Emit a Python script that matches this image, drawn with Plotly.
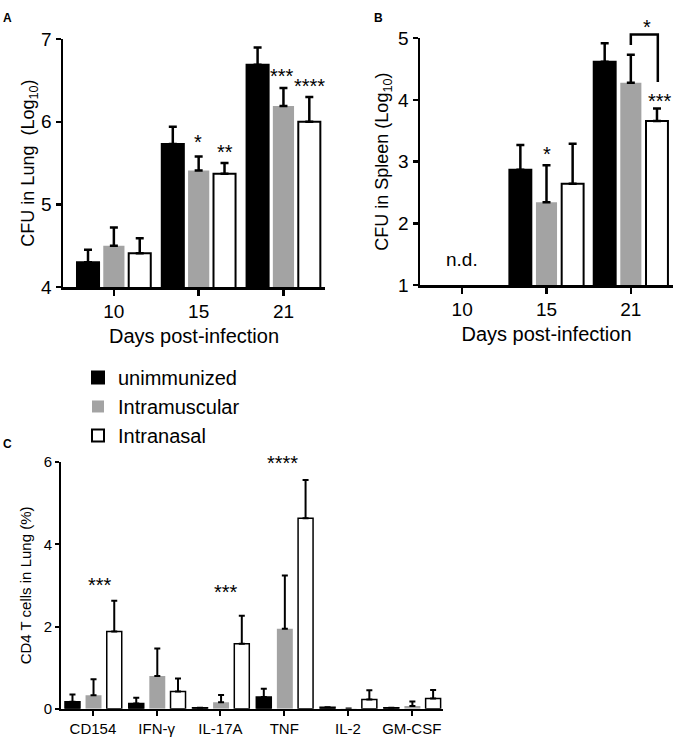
import plotly.graph_objects as go

# ---------------- data ----------------
groups = ["unimmunized", "Intramuscular", "Intranasal"]

days = ["10", "15", "21"]
lung_unimm = [4.30, 5.73, 6.69]
lung_unimm_err = [0.15, 0.21, 0.21]
lung_im = [4.50, 5.41, 6.19]
lung_im_err = [0.22, 0.17, 0.22]
lung_in = [4.41, 5.37, 6.00]
lung_in_err = [0.18, 0.13, 0.30]

spleen_unimm = [None, 2.87, 4.62]
spleen_unimm_err = [None, 0.40, 0.30]
spleen_im = [None, 2.34, 4.28]
spleen_im_err = [None, 0.60, 0.45]
spleen_in = [None, 2.64, 3.66]
spleen_in_err = [None, 0.65, 0.20]

cytokines = ["CD154", "IFN-γ", "IL-17A", "TNF", "IL-2", "GM-CSF"]
cd4_unimm = [0.17, 0.13, 0.03, 0.29, 0.04, 0.03]
cd4_unimm_err = [0.18, 0.14, None, 0.20, None, None]
cd4_im = [0.33, 0.80, 0.16, 1.95, 0.01, 0.07]
cd4_im_err = [0.39, 0.67, 0.18, 1.29, None, 0.11]
cd4_in = [1.88, 0.42, 1.58, 4.63, 0.23, 0.25]
cd4_in_err = [0.75, 0.32, 0.68, 0.93, 0.22, 0.21]

# significance marks: (x position in category units, y value, text)
sig_A = [(0.99, 5.82, "*"), (1.31, 5.69, "**"), (1.98, 6.62, "***"), (2.31, 6.49, "****")]
sig_B = [(1.0, 3.20, "*"), (2.34, 4.07, "***"), (2.19, 5.27, "*")]
sig_C = [(0.11, 3.12, "***"), (2.08, 2.95, "***"), (2.97, 6.10, "****")]

# ---------------- style ----------------
W, H = 677, 750
FONT = "Arial, Liberation Sans, sans-serif"
BLACK = "#000000"
GREY = "#a3a3a3"
WHITE = "#ffffff"

rangeA = [4, 7]
rangeB = [1, 5]
rangeC = [0, 6]


def px_dom(a, b, total):
    return [a / total, b / total]


def py_dom(top, bottom):
    return [1 - bottom / H, 1 - top / H]


fig = go.Figure()


def add_group(xaxis, yaxis, n, vals, errs, offs, widths, line_w, err_th, err_w, show_legend):
    styles = [
        dict(color=BLACK, line=dict(color=BLACK, width=line_w)),
        dict(color=GREY, line=dict(color=GREY, width=0)),
        dict(color=WHITE, line=dict(color=BLACK, width=line_w)),
    ]
    for g in range(3):
        xs = [i + offs[g] for i in range(n)]
        fig.add_trace(go.Bar(
            x=xs, y=vals[g], width=widths[g],
            marker=styles[g],
            error_y=dict(type="data", array=errs[g], arrayminus=[0] * n, symmetric=False,
                         color=BLACK, thickness=err_th, width=err_w),
            name=groups[g], legendgroup=groups[g], showlegend=show_legend,
            xaxis=xaxis, yaxis=yaxis, hoverinfo="skip",
        ))


add_group("x", "y", 3, [lung_unimm, lung_im, lung_in], [lung_unimm_err, lung_im_err, lung_in_err],
          [-0.305, 0.0, 0.305], [0.26, 0.25, 0.26], 2, 2.5, 4, True)
add_group("x2", "y2", 3, [spleen_unimm, spleen_im, spleen_in],
          [spleen_unimm_err, spleen_im_err, spleen_in_err],
          [-0.31, 0.0, 0.31], [0.26, 0.25, 0.26], 2, 2.5, 4, False)
add_group("x3", "y3", 6, [cd4_unimm, cd4_im, cd4_in], [cd4_unimm_err, cd4_im_err, cd4_in_err],
          [-0.32, 0.01, 0.335], [0.235, 0.25, 0.235], 1.5, 2, 3, False)

axis_common = dict(showline=True, linecolor=BLACK, ticks="outside", tickcolor=BLACK,
                   showgrid=False, zeroline=False, fixedrange=True)

fig.update_layout(
    width=W, height=H, autosize=False,
    margin=dict(l=0, r=0, t=0, b=0),
    paper_bgcolor="white", plot_bgcolor="white",
    font=dict(family=FONT, color=BLACK),
    barmode="overlay",
    xaxis=dict(domain=px_dom(63, 325, W), anchor="y", range=[-0.6, 2.49],
               tickvals=[0, 1, 2], ticktext=days, tickfont=dict(size=19),
               linewidth=2.5, tickwidth=2.5, ticklen=6,
               title=dict(text="Days post-infection", font=dict(size=20), standoff=8),
               **axis_common),
    yaxis=dict(domain=py_dom(30, 285), anchor="x", range=rangeA, tickvals=[4, 5, 6, 7],
               tickfont=dict(size=19), linewidth=2.5, tickwidth=2.5, ticklen=5,
               title=dict(text="CFU in Lung\u00a0 (Log<sub>10</sub>)", font=dict(size=18), standoff=1),
               **axis_common),
    xaxis2=dict(domain=px_dom(420, 673, W), anchor="y2", range=[-0.5, 2.5],
                tickvals=[0, 1, 2], ticktext=days, tickfont=dict(size=19),
                linewidth=2.5, tickwidth=2.5, ticklen=6,
                title=dict(text="Days post-infection", font=dict(size=20), standoff=8),
                **axis_common),
    yaxis2=dict(domain=py_dom(29, 283), anchor="x2", range=rangeB, tickvals=[1, 2, 3, 4, 5],
                tickfont=dict(size=19), linewidth=2.5, tickwidth=2.5, ticklen=5,
                title=dict(text="CFU in Spleen (Log<sub>10</sub>)", font=dict(size=18), standoff=5),
                **axis_common),
    xaxis3=dict(domain=px_dom(61, 443, W), anchor="y3", range=[-0.5, 5.49],
                tickvals=list(range(len(cytokines))), ticktext=cytokines, tickfont=dict(size=15),
                linewidth=2, tickwidth=2, ticklen=5,
                **axis_common),
    yaxis3=dict(domain=py_dom(465, 719), anchor="x3", range=rangeC, tickvals=[0, 2, 4, 6],
                tickfont=dict(size=15), linewidth=2, tickwidth=2, ticklen=4,
                title=dict(text="CD4 T cells in Lung (%)", font=dict(size=15), standoff=8),
                **axis_common),
    legend=dict(x=78 / W, y=1 - 358 / H, xanchor="left", yanchor="top",
                font=dict(size=20), bgcolor="rgba(0,0,0,0)", tracegroupgap=0),
    showlegend=True,
)


def frac(v, rng):
    return (v - rng[0]) / (rng[1] - rng[0])


STAR_SHIFT = -5
annotations = []
for xr, yr, rng, marks in [("x", "y domain", rangeA, sig_A),
                           ("x2", "y2 domain", rangeB, sig_B),
                           ("x3", "y3 domain", rangeC, sig_C)]:
    for (x, y, t) in marks:
        annotations.append(dict(x=x, y=frac(y, rng), xref=xr, yref=yr, text=t,
                                xanchor="center", yanchor="middle",
                                showarrow=False, font=dict(size=20), yshift=STAR_SHIFT))

# n.d. (not detected) at day 10 in spleen
annotations.append(dict(x=0, y=frac(1.41, rangeB), xref="x2", yref="y2 domain", text="n.d.",
                        xanchor="center", yanchor="middle", showarrow=False, font=dict(size=19)))

# panel letters
for lab, px, py in [("A", 7, 8), ("B", 378, 8), ("C", 7, 446)]:
    annotations.append(dict(x=px / W, y=1 - py / H, xref="paper", yref="paper", text="<b>%s</b>" % lab,
                            showarrow=False, font=dict(size=12), xanchor="center", yanchor="middle"))

fig.update_layout(annotations=annotations)

# comparison bracket in B (Intramuscular vs Intranasal at day 21)
fig.add_shape(type="path", xref="x2", yref="y2 domain",
              path="M 2.0,%f L 2.0,%f L 2.32,%f L 2.32,%f" % (
                  frac(4.89, rangeB), frac(5.06, rangeB), frac(5.06, rangeB), frac(4.29, rangeB)),
              line=dict(color=BLACK, width=2.5))

fig.write_html("out.html", config={"displayModeBar": False, "staticPlot": True},
               post_script="document.body.style.margin='0px';document.body.style.overflow='hidden';")
